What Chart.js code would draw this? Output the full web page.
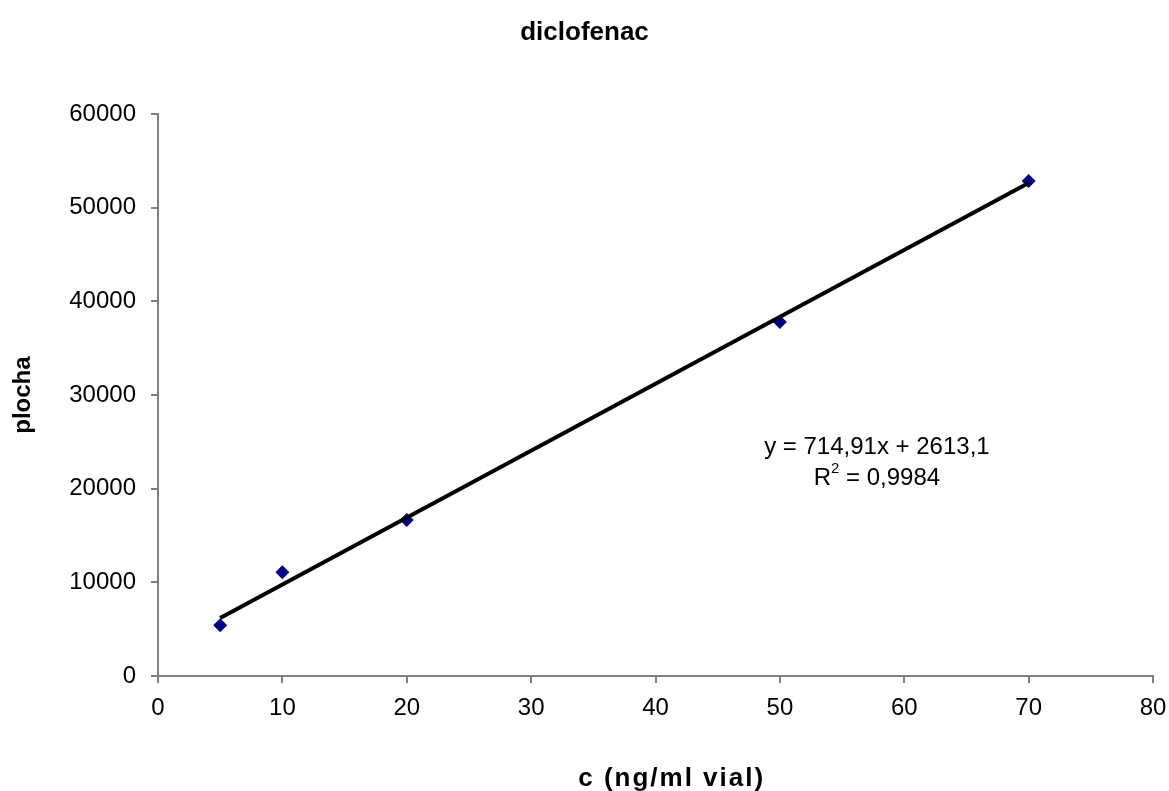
<!DOCTYPE html>
<html>
<head>
<meta charset="utf-8">
<script src="https://cdn.jsdelivr.net/npm/chart.js@4/dist/chart.umd.min.js"></script>
<style>
  html, body { margin: 0; padding: 0; background: #fff; }
</style>
</head>
<body>
<canvas id="chart" width="1169" height="791"></canvas>
<script>
// calibration points
const concentrations = [5, 10, 20, 50, 70];
const areas = [5410, 11070, 16650, 37810, 52860];

// linear fit as reported
const slope = 714.91;
const intercept = 2613.1;
const fitLabel = 'y = 714,91x + 2613,1';
const r2Label = '0,9984';
const xTitle = 'c (ng/ml vial)';

const trendX = [concentrations[0], concentrations[concentrations.length - 1]];
const trendPoints = trendX.map(x => ({ x: x, y: slope * x + intercept }));

const FONT = 'Arial, "Liberation Sans", sans-serif';

// equation + R² next to the trendline, and the x axis title
const extraText = {
  id: 'extraText',
  afterDatasetsDraw(chart) {
    const ctx = chart.ctx;
    const xs = chart.scales.x, ys = chart.scales.y;
    const cx = xs.getPixelForValue(57.8);
    const cy = ys.getPixelForValue(24450);
    ctx.save();
    ctx.fillStyle = '#000';
    ctx.font = '24px ' + FONT;
    ctx.textAlign = 'center';
    ctx.textBaseline = 'middle';
    ctx.fillText(fitLabel, cx, cy);
    // R² line with superscript
    const rest = ' = ' + r2Label;
    const wR = ctx.measureText('R').width;
    ctx.font = '15px ' + FONT;
    const wSup = ctx.measureText('2').width;
    ctx.font = '24px ' + FONT;
    const wRest = ctx.measureText(rest).width;
    const x0 = cx - (wR + wSup + wRest) / 2;
    const y2 = cy + 31;
    ctx.textAlign = 'left';
    ctx.fillText('R', x0, y2);
    ctx.font = '15px ' + FONT;
    ctx.fillText('2', x0 + wR, y2 - 9);
    ctx.font = '24px ' + FONT;
    ctx.fillText(rest, x0 + wR + wSup, y2);

    // x axis title
    ctx.font = 'bold 26px ' + FONT;
    ctx.letterSpacing = '2px';
    ctx.textAlign = 'center';
    ctx.fillText(xTitle, xs.getPixelForValue(41.3), xs.bottom - 12);
    ctx.restore();
  }
};

new Chart(document.getElementById('chart'), {
  type: 'scatter',
  data: {
    datasets: [
      {
        label: 'trend',
        type: 'line',
        data: trendPoints,
        borderColor: '#000',
        borderWidth: 4,
        pointRadius: 0,
        fill: false
      },
      {
        label: 'diclofenac',
        data: concentrations.map((c, i) => ({ x: c, y: areas[i] })),
        pointStyle: 'rectRot',
        pointRadius: 7,
        backgroundColor: '#000080',
        borderColor: '#000080',
        borderWidth: 0
      }
    ]
  },
  options: {
    responsive: false,
    animation: false,
    layout: { padding: 0 },
    plugins: {
      legend: { display: false },
      tooltip: { enabled: false },
      title: {
        display: true,
        text: 'diclofenac',
        color: '#000',
        font: { family: FONT, size: 26, weight: 'bold' },
        padding: { top: 17, bottom: 66 }
      }
    },
    scales: {
      x: {
        type: 'linear',
        min: 0,
        max: 80,
        ticks: {
          stepSize: 10, color: '#000', padding: 11,
          font: { family: FONT, size: 24 },
          callback: v => String(v)
        },
        grid: { drawOnChartArea: false, color: '#808080', tickLength: 7, lineWidth: 2 },
        border: { color: '#808080', width: 2 },
        afterFit(scale) {
          scale.height = 115;
          // room on the right for the last tick label
          scale.paddingRight = 16;
        }
      },
      y: {
        min: 0,
        max: 60000,
        ticks: {
          stepSize: 10000, color: '#000', padding: 15,
          font: { family: FONT, size: 24 },
          callback: v => String(v)
        },
        grid: { drawOnChartArea: false, color: '#808080', tickLength: 7, lineWidth: 2 },
        border: { color: '#808080', width: 2 },
        title: {
          display: true,
          text: 'plocha',
          color: '#000',
          font: { family: FONT, size: 24, weight: 'bold' },
          padding: { top: 9, bottom: 0 }
        },
        afterFit(scale) { scale.width = 158; }
      }
    }
  },
  plugins: [extraText]
});
</script>
</body>
</html>
